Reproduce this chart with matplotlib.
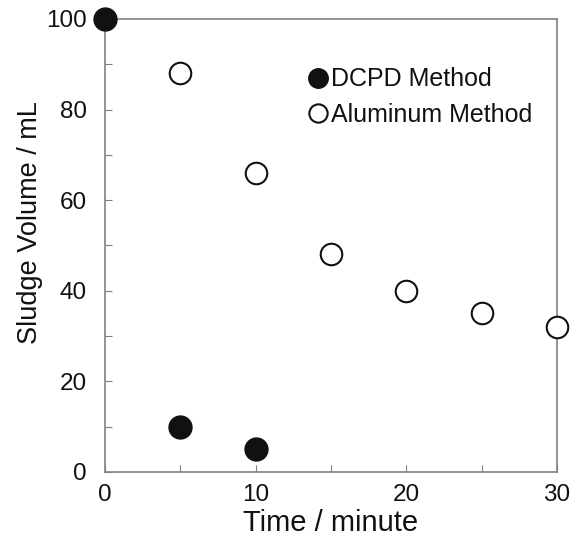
import matplotlib
matplotlib.use("Agg")
import matplotlib.pyplot as plt
from matplotlib.ticker import MultipleLocator

plt.rcParams['font.family'] = ['Liberation Sans', 'DejaVu Sans']

# data
dcpd_time = [0, 5, 10]
dcpd_volume = [100, 10, 5]
alum_time = [5, 10, 15, 20, 25, 30]
alum_volume = [88, 66, 48, 40, 35, 32]

fig = plt.figure(figsize=(5.7, 5.4), dpi=100)
ax = fig.add_axes([0.184, 0.126, 0.793, 0.839])

ax.plot(dcpd_time, dcpd_volume, 'o', color='#111111', markersize=16.5,
        label='DCPD Method', clip_on=False, zorder=5)
ax.plot(alum_time, alum_volume, 'o', markerfacecolor='white', markeredgecolor='#111111',
        markeredgewidth=1.5, markersize=15.5, label='Aluminum Method', clip_on=False, zorder=5)

ax.set_xlim(0, 30)
ax.set_ylim(0, 100)
ax.xaxis.set_major_locator(MultipleLocator(10))
ax.xaxis.set_minor_locator(MultipleLocator(5))
ax.yaxis.set_major_locator(MultipleLocator(20))
ax.yaxis.set_minor_locator(MultipleLocator(10))

for s in ax.spines.values():
    s.set_color('#808080')
    s.set_linewidth(1.2)

ax.tick_params(which='both', direction='in', length=5, width=0.8, color='#808080',
               labelsize=17.5, labelcolor='#111111')
ax.tick_params(axis='y', which='both', pad=13)
ax.tick_params(axis='x', which='both', pad=9)

ax.set_xlabel('Time / minute', fontsize=21, color='#111111', labelpad=2)
ax.set_ylabel('Sludge Volume / mL', fontsize=19.5, color='#111111')
ax.yaxis.set_label_coords(-0.137, 0.55)

leg = ax.legend(loc='upper left', bbox_to_anchor=(0.455, 0.893), frameon=False,
                fontsize=18, numpoints=1, handlelength=0.6, handletextpad=0.2,
                markerscale=0.85, labelspacing=0.45, borderaxespad=0, borderpad=0)
for t in leg.get_texts():
    t.set_color('#111111')

fig.savefig('out.png', dpi=100)
